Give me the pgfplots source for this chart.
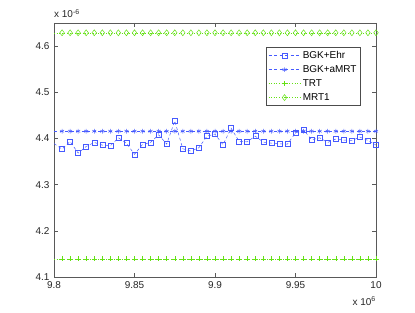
\documentclass[border=0pt]{standalone}
\usepackage{pgfplots}
\pgfplotsset{compat=1.18}
\usepackage{fontspec}
\setmainfont{Liberation Sans}
\definecolor{mblue}{RGB}{70,90,255}
\definecolor{mgreen}{RGB}{100,225,20}
\begin{document}
\begin{tikzpicture}
\path[use as bounding box] (-54bp,-36bp) rectangle (361bp,277bp);
\begin{axis}[
  scale only axis, width=322bp, height=254bp,
  xmin=9.8, xmax=10, ymin=4.1, ymax=4.65,
  xtick={9.8,9.85,9.9,9.95,10},
  xticklabels={9.8,9.85,9.9,9.95,10},
  ytick={4.1,4.2,4.3,4.4,4.5,4.6},
  yticklabels={4.1,4.2,4.3,4.4,4.5,4.6},
  /pgf/number format/assume math mode=true,
  tick align=inside, major tick length=4bp,
  axis line style={black!65, line width=0.8bp},
  every tick/.style={black!65, line width=0.6bp},
  ticklabel style={font=\fontsize{10}{12}\selectfont, text=black!85},
  xticklabel style={yshift=-1bp},
  yticklabel style={xshift=-1bp},
  legend cell align=left,
  legend style={at={(rel axis cs:0.953,0.906)}, anchor=north east, draw=black!70,
    line width=0.6bp, font=\fontsize{10}{12}\selectfont, inner xsep=2bp, inner ysep=2bp, row sep=1.6bp},
  legend image code/.code={\draw[mark repeat=2,mark phase=2,#1] plot coordinates {(0bp,0bp) (16bp,0bp) (32bp,0bp)};},
]
\addplot[mblue, line width=0.5bp, dash pattern=on 3bp off 2.5bp, mark=square, mark size=2.5bp, mark phase=2,
  mark options={solid, line width=0.5bp}] coordinates {
(9.800,4.389) (9.805,4.377) (9.810,4.3935) (9.815,4.3683) (9.820,4.3827) (9.825,4.3914)
(9.830,4.3856) (9.835,4.3842) (9.840,4.4014) (9.845,4.3899) (9.850,4.3655)
(9.855,4.3871) (9.860,4.3914) (9.865,4.4079) (9.870,4.3878) (9.875,4.4381)
(9.880,4.3777) (9.885,4.3727) (9.890,4.3799) (9.895,4.4050) (9.900,4.4094)
(9.905,4.3863) (9.910,4.4223) (9.915,4.3935) (9.920,4.3928) (9.925,4.4050)
(9.930,4.3921) (9.935,4.3899) (9.940,4.3885) (9.945,4.3878) (9.950,4.4122)
(9.955,4.4187) (9.960,4.3971) (9.965,4.4014) (9.970,4.3914) (9.975,4.3986)
(9.980,4.3964) (9.985,4.3957) (9.990,4.4029) (9.995,4.3957) (10.000,4.3856)
};
\addlegendentry{BGK+Ehr}
\addplot[mblue, line width=0.5bp, dash pattern=on 3bp off 2.5bp, mark=asterisk, mark size=2.3bp, mark phase=2,
  mark options={solid, line width=0.5bp}] coordinates {
(9.800,4.4157) (9.805,4.4157) (9.810,4.4157) (9.815,4.4157) (9.820,4.4157) (9.825,4.4157)
(9.830,4.4157) (9.835,4.4157) (9.840,4.4157) (9.845,4.4157) (9.850,4.4157)
(9.855,4.4157) (9.860,4.4157) (9.865,4.4157) (9.870,4.4157) (9.875,4.4157)
(9.880,4.4157) (9.885,4.4157) (9.890,4.4157) (9.895,4.4157) (9.900,4.4157)
(9.905,4.4157) (9.910,4.4157) (9.915,4.4157) (9.920,4.4157) (9.925,4.4157)
(9.930,4.4157) (9.935,4.4157) (9.940,4.4157) (9.945,4.4157) (9.950,4.4157)
(9.955,4.4157) (9.960,4.4157) (9.965,4.4157) (9.970,4.4157) (9.975,4.4157)
(9.980,4.4157) (9.985,4.4157) (9.990,4.4157) (9.995,4.4157) (10.000,4.4157)
};
\addlegendentry{BGK+aMRT}
\addplot[mgreen, line width=0.5bp, dash pattern=on 0.8bp off 1.8bp, mark=+, mark size=2.7bp, mark phase=2,
  mark options={solid, line width=0.5bp}] coordinates {
(9.800,4.1395) (9.805,4.1395) (9.810,4.1395) (9.815,4.1395) (9.820,4.1395) (9.825,4.1395)
(9.830,4.1395) (9.835,4.1395) (9.840,4.1395) (9.845,4.1395) (9.850,4.1395)
(9.855,4.1395) (9.860,4.1395) (9.865,4.1395) (9.870,4.1395) (9.875,4.1395)
(9.880,4.1395) (9.885,4.1395) (9.890,4.1395) (9.895,4.1395) (9.900,4.1395)
(9.905,4.1395) (9.910,4.1395) (9.915,4.1395) (9.920,4.1395) (9.925,4.1395)
(9.930,4.1395) (9.935,4.1395) (9.940,4.1395) (9.945,4.1395) (9.950,4.1395)
(9.955,4.1395) (9.960,4.1395) (9.965,4.1395) (9.970,4.1395) (9.975,4.1395)
(9.980,4.1395) (9.985,4.1395) (9.990,4.1395) (9.995,4.1395) (10.000,4.1395)
};
\addlegendentry{TRT}
\addplot[mgreen, line width=0.5bp, dash pattern=on 0.8bp off 1.8bp, mark=diamond, mark size=3bp, mark phase=2,
  mark options={solid, line width=0.5bp}] coordinates {
(9.800,4.6288) (9.805,4.6288) (9.810,4.6288) (9.815,4.6288) (9.820,4.6288) (9.825,4.6288)
(9.830,4.6288) (9.835,4.6288) (9.840,4.6288) (9.845,4.6288) (9.850,4.6288)
(9.855,4.6288) (9.860,4.6288) (9.865,4.6288) (9.870,4.6288) (9.875,4.6288)
(9.880,4.6288) (9.885,4.6288) (9.890,4.6288) (9.895,4.6288) (9.900,4.6288)
(9.905,4.6288) (9.910,4.6288) (9.915,4.6288) (9.920,4.6288) (9.925,4.6288)
(9.930,4.6288) (9.935,4.6288) (9.940,4.6288) (9.945,4.6288) (9.950,4.6288)
(9.955,4.6288) (9.960,4.6288) (9.965,4.6288) (9.970,4.6288) (9.975,4.6288)
(9.980,4.6288) (9.985,4.6288) (9.990,4.6288) (9.995,4.6288) (10.000,4.6288)
};
\addlegendentry{MRT1}
\end{axis}
\node[anchor=base west, inner sep=0pt, font=\fontsize{10}{12}\selectfont, text=black!85]
  at ([yshift=5bp]current axis.north west) {x 10\textsuperscript{-6}};
\node[anchor=base east, inner sep=0pt, font=\fontsize{10}{12}\selectfont, text=black!85]
  at ([yshift=-28bp]current axis.south east) {x 10\textsuperscript{6}};
\end{tikzpicture}
\end{document}
